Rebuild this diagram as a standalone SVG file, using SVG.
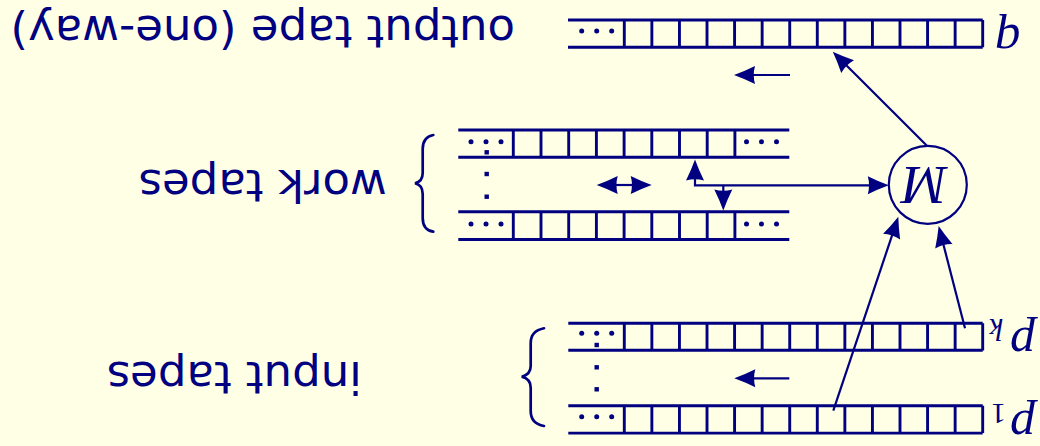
<svg xmlns="http://www.w3.org/2000/svg" width="1040" height="446" viewBox="0 0 1040 446">
<style>
.bg{fill:#ffffe5}
.tape{fill:none;stroke:#000080;stroke-width:2.9;stroke-linecap:butt}
.dot{fill:#000080}
.conn{fill:none;stroke:#000080;stroke-width:2.2}
.circ{fill:none;stroke:#000080;stroke-width:2.2}
.brace{fill:none;stroke:#000080;stroke-width:2.7;stroke-linecap:round}
.lbl{font-family:"DejaVu Sans",sans-serif;font-size:45px;fill:#000080}
.math{font-family:"Liberation Serif",serif;font-style:italic;fill:#000080}
.num{font-family:"Liberation Serif",serif;fill:#000080}
</style>
<defs>
<marker id="ah" markerUnits="userSpaceOnUse" markerWidth="26" markerHeight="20" refX="4" refY="9" orient="auto-start-reverse" overflow="visible">
<path d="M0,0 Q10,5 21,9 Q10,13 0,18 Q2.5,9 0,0 Z" fill="#000080"/>
</marker>
<g id="cells14">
<path class="tape" d="M0,0 V27.3 M27.57,0 V27.3 M55.14,0 V27.3 M82.71,0 V27.3 M110.28,0 V27.3 M137.85,0 V27.3 M165.42,0 V27.3 M192.99,0 V27.3 M220.56,0 V27.3 M248.13,0 V27.3 M275.7,0 V27.3 M303.27,0 V27.3 M330.84,0 V27.3 M358.4,0 V27.3"/>
</g>
<g id="dots3">
<circle class="dot" cx="0" cy="0" r="2.5"/>
<circle class="dot" cx="15" cy="0" r="2.5"/>
<circle class="dot" cx="30" cy="0" r="2.5"/>
</g>
</defs>
<rect class="bg" x="0" y="0" width="1040" height="446"/>

<g id="output-tape">
<path class="tape" d="M568,20 H982.7 M568,47.3 H982.7"/>
<use href="#cells14" x="624.3" y="20"/>
<use href="#dots3" x="581.7" y="31"/>
<text class="math" font-size="50" x="1008" y="24.5" text-anchor="middle" transform="rotate(180 1008 24.5)">q</text>
<text class="lbl" font-size="46" x="262.8" y="16" text-anchor="middle" transform="rotate(180 262.8 16)">output tape (one-way)</text>
</g>

<g id="work-tape-1">
<path class="tape" d="M458.3,130 H789.3 M458.3,157.3 H789.3 M513.3,130 V157.3 M541,130 V157.3 M568.7,130 V157.3 M596.4,130 V157.3 M624.1,130 V157.3 M651.8,130 V157.3 M679.5,130 V157.3 M707.2,130 V157.3 M734.9,130 V157.3"/>
<use href="#dots3" x="471" y="141.7"/>
<use href="#dots3" x="746.5" y="141.7"/>
</g>

<g id="work-tape-2">
<path class="tape" d="M458.3,211.7 H789.3 M458.3,239.5 H789.3 M513.3,211.7 V239.5 M541,211.7 V239.5 M568.7,211.7 V239.5 M596.4,211.7 V239.5 M624.1,211.7 V239.5 M651.8,211.7 V239.5 M679.5,211.7 V239.5 M707.2,211.7 V239.5 M734.9,211.7 V239.5"/>
<use href="#dots3" x="471" y="224"/>
<use href="#dots3" x="746.5" y="224"/>
</g>

<g id="work-tapes-label">
<rect class="dot" x="484.5" y="150.1" width="4.4" height="4.4"/>
<rect class="dot" x="484.5" y="171.8" width="4.4" height="4.4"/>
<rect class="dot" x="484.5" y="194.5" width="4.4" height="4.4"/>
<path class="brace" d="M433.3,135 C425.5,136.5 422.7,141 422.7,149 L422.7,173 C422.7,179.5 419.5,182.3 415,183.3 C419.5,184.3 422.7,187.5 422.7,194 L422.7,218 C422.7,226 425.5,230.5 433.3,231.7"/>
<text class="lbl" font-size="44" x="262.7" y="170" text-anchor="middle" transform="rotate(180 262.7 170)">work tapes</text>
</g>

<g id="input-tape-k">
<path class="tape" d="M568.3,323.3 H982.7 M568.3,350.3 H982.7"/>
<use href="#cells14" x="624.3" y="323.3"/>
<use href="#dots3" x="581.7" y="333.3"/>
<text class="math" font-size="50" x="1022.5" y="327.7" text-anchor="middle" transform="rotate(180 1022.5 327.7)">p</text>
<text class="math" font-size="31" x="996.4" y="319.3" text-anchor="middle" transform="rotate(180 996.4 319.3)">k</text>
</g>

<g id="input-tape-1">
<path class="tape" d="M568.3,405.8 H982.7 M568.3,433.1 H982.7"/>
<use href="#cells14" x="624.3" y="405.8"/>
<use href="#dots3" x="581.7" y="416.7"/>
<text class="math" font-size="50" x="1022.5" y="411" text-anchor="middle" transform="rotate(180 1022.5 411)">p</text>
<text class="num" font-size="30" x="998.5" y="404" text-anchor="middle" transform="rotate(180 998.5 404)">1</text>
</g>

<g id="input-tapes-label">
<rect class="dot" x="594.5" y="342.8" width="4.4" height="4.4"/>
<rect class="dot" x="594.5" y="365.1" width="4.4" height="4.4"/>
<rect class="dot" x="594.5" y="387.1" width="4.4" height="4.4"/>
<path class="brace" d="M544,328.3 C535.5,330 530.7,335 530.7,343 L530.7,366 C530.7,372.5 527,375.5 521.7,376.7 C527,377.9 530.7,381 530.7,387.5 L530.7,411 C530.7,419 535.5,424.5 544,426"/>
<text class="lbl" x="234.2" y="361.7" text-anchor="middle" transform="rotate(180 234.2 361.7)">input tapes</text>
</g>

<g id="machine">
<circle class="circ" cx="927.8" cy="184.8" r="39"/>
<text class="math" font-size="54" x="924.7" y="166.7" text-anchor="middle" transform="rotate(180 924.7 166.7)">M</text>
</g>

<g id="connectors">
<line class="conn" x1="926.7" y1="145.5" x2="844.8" y2="63.7" marker-end="url(#ah)"/>
<line class="conn" x1="790" y1="75" x2="751" y2="75" marker-end="url(#ah)"/>
<line class="conn" x1="613.7" y1="185" x2="634.7" y2="185" marker-start="url(#ah)" marker-end="url(#ah)"/>
<line class="conn" x1="789.3" y1="378.3" x2="751.3" y2="378.3" marker-end="url(#ah)"/>
<polyline class="conn" points="695,176.5 695,185.3 871.8,185.3" marker-start="url(#ah)" marker-end="url(#ah)"/>
<line class="conn" x1="723.3" y1="185.3" x2="723.3" y2="193.5" marker-end="url(#ah)"/>
<line class="conn" x1="833.3" y1="410.7" x2="892.9" y2="232.9" marker-end="url(#ah)"/>
<line class="conn" x1="965" y1="328.3" x2="942.9" y2="242.5" marker-end="url(#ah)"/>
</g>
</svg>
